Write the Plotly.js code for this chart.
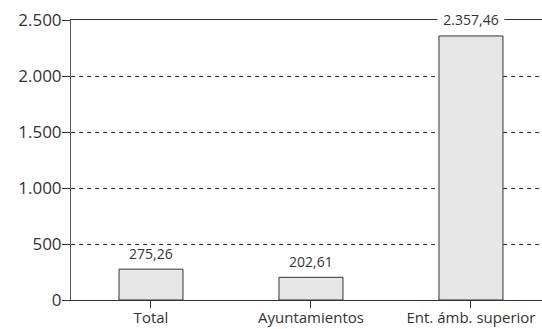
<!DOCTYPE html>
<html>
<head>
<meta charset="utf-8">
<script src="https://cdn.plot.ly/plotly-3.0.1.min.js"></script>
<style>html,body{margin:0;padding:0;background:#fff;}#chart{width:542px;height:329px;}</style>
</head>
<body>
<div id="chart"></div>
<script>
const categories = ["Total", "Ayuntamientos", "Ent. ámb. superior"];
const values = [275.26, 202.61, 2357.46];
const yTickValues = [0, 500, 1000, 1500, 2000, 2500];

function fmtEs(v) {
  const parts = v.toFixed(2).split(".");
  parts[0] = parts[0].replace(/\B(?=(\d{3})+(?!\d))/g, ".");
  return parts[0] + "," + parts[1];
}

const FONT = "Open Sans, sans-serif";
const idx = categories.map((c, i) => i);
const yMax = yTickValues[yTickValues.length - 1];

const trace = {
  type: "bar",
  x: idx,
  y: values,
  width: 0.4,
  marker: {color: "#e6e6e6", line: {color: "#333333", width: 1}},
  hoverinfo: "none"
};

const annotations = values.map((v, i) => {
  const onTopLine = v > 0.9 * yMax;
  return {
    x: i, y: v, xref: "x", yref: "y",
    text: fmtEs(v),
    showarrow: false,
    yanchor: "middle",
    yshift: 16,
    bgcolor: onTopLine ? "#ffffff" : "rgba(0,0,0,0)",
    width: onTopLine ? 66 : null,
    borderpad: 0,
    font: {family: FONT, size: 14, color: "#333333"}
  };
});

const layout = {
  width: 542, height: 329,
  margin: {l: 71, r: 0, t: 20, b: 29},
  paper_bgcolor: "#ffffff",
  plot_bgcolor: "#ffffff",
  separators: ",.",
  showlegend: false,
  font: {family: FONT, color: "#333333"},
  xaxis: {
    range: [-0.5, 2.444],
    tickmode: "array",
    tickvals: idx,
    ticktext: categories,
    tickson: "boundaries",
    ticks: "outside",
    ticklen: 7,
    tickcolor: "#333333",
    ticklabelstandoff: -3,
    showline: true,
    linecolor: "#333333",
    linewidth: 1,
    mirror: true,
    showgrid: false,
    zeroline: false,
    tickfont: {family: FONT, size: 15, color: "#333333"},
    fixedrange: true
  },
  yaxis: {
    range: [0, yMax],
    tickmode: "array",
    tickvals: yTickValues,
    tickformat: ",d",
    ticks: "outside",
    ticklen: 8,
    tickcolor: "#333333",
    ticklabelstandoff: -3,
    showline: true,
    linecolor: "#555555",
    linewidth: 1,
    showgrid: true,
    gridcolor: "#333333",
    gridwidth: 1,
    griddash: "4px,4px",
    zeroline: false,
    tickfont: {family: FONT, size: 17, color: "#333333"},
    fixedrange: true
  },
  annotations: annotations
};

Plotly.newPlot("chart", [trace], layout, {displayModeBar: false, staticPlot: true});
</script>
</body>
</html>
